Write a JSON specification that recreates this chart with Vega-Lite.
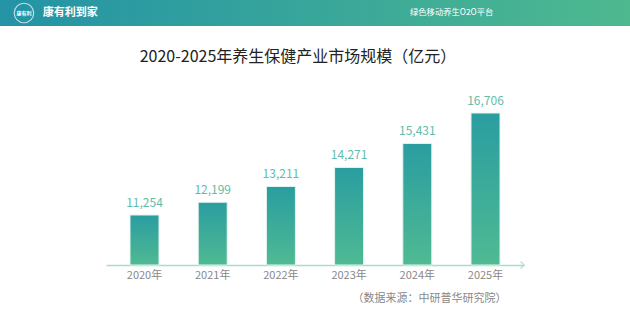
{
  "$schema": "https://vega.github.io/schema/vega-lite/v6.json",
  "padding": 0,
  "background": "white",
  "spacing": 87,
  "center": true,
  "bounds": "flush",
  "config": {"view": {"stroke": null}, "font": "Noto Sans CJK SC"},
  "vconcat": [
    {
      "width": 630,
      "height": 26,
      "view": {"fill": {"gradient": "linear", "x1": 0, "y1": 0, "x2": 1, "y2": 0, "stops": [{"offset": 0, "color": "#2393a6"}, {"offset": 1, "color": "#4eb98f"}]}},
      "data": {"values": [{"name": "brand", "label": "康有利到家"}, {"name": "slogan", "label": "绿色移动养生O2O平台"}, {"name": "logo", "label": "康有利"}]},
      "layer": [
        {
          "transform": [{"filter": "datum.name === 'logo'"}],
          "mark": {"type": "point", "shape": "circle", "filled": false, "stroke": "white", "strokeWidth": 1.2, "size": 380},
          "encoding": {
            "x": {"datum": 0.038, "type": "quantitative", "scale": {"domain": [0, 1]}, "axis": null},
            "y": {"datum": 0.5, "type": "quantitative", "scale": {"domain": [0, 1]}, "axis": null}
          }
        },
        {
          "transform": [{"filter": "datum.name === 'logo'"}],
          "mark": {"type": "text", "color": "white", "fontSize": 5, "fontWeight": "bold"},
          "encoding": {
            "x": {"datum": 0.038, "type": "quantitative"},
            "y": {"datum": 0.5, "type": "quantitative"},
            "text": {"field": "label"}
          }
        },
        {
          "transform": [{"filter": "datum.name === 'brand'"}],
          "mark": {"type": "text", "color": "white", "fontSize": 11, "fontWeight": "bold", "align": "left", "baseline": "middle"},
          "encoding": {
            "x": {"datum": 0.068, "type": "quantitative"},
            "y": {"datum": 0.5, "type": "quantitative"},
            "text": {"field": "label"}
          }
        },
        {
          "transform": [{"filter": "datum.name === 'slogan'"}],
          "mark": {"type": "text", "color": "white", "fontSize": 8.3, "align": "right", "baseline": "middle"},
          "encoding": {
            "x": {"datum": 0.783, "type": "quantitative"},
            "y": {"datum": 0.5, "type": "quantitative"},
            "text": {"field": "label"}
          }
        }
      ]
    },
    {
      "width": 418,
      "height": 152,
      "title": {"text": "2020-2025年养生保健产业市场规模（亿元）", "fontSize": 16, "fontWeight": "normal", "color": "#222222", "offset": 30, "dx": -17, "anchor": "middle"},
      "data": {"values": [
        {"year": "2020年", "value": 11254},
        {"year": "2021年", "value": 12199},
        {"year": "2022年", "value": 13211},
        {"year": "2023年", "value": 14271},
        {"year": "2024年", "value": 15431},
        {"year": "2025年", "value": 16706}
      ]},
      "layer": [
        {
          "layer": [
            {
              "mark": {"type": "bar", "fill": {"gradient": "linear", "x1": 0, "y1": 0, "x2": 0, "y2": 1, "stops": [{"offset": 0, "color": "#2a9da0"}, {"offset": 1, "color": "#4fba93"}]}, "stroke": "#e3f4ef", "strokeWidth": 1},
              "encoding": {
                "x": {"field": "year", "type": "nominal", "scale": {"paddingInner": 0.575, "paddingOuter": 0.352},
                  "axis": {"title": "（数据来源：中研普华研究院）", "titleAnchor": "end", "titleAlign": "right", "titleX": 400, "titleY": 33, "titleBaseline": "middle", "titleColor": "#888888", "titleFontSize": 11, "titleFontWeight": "normal", "domainColor": "#a8dcc8", "domainWidth": 1.5, "ticks": false, "labelColor": "#888888", "labelFontSize": 11, "labelPadding": 4, "labelAngle": 0}},
                "y": {"field": "value", "type": "quantitative", "scale": {"type": "pow", "exponent": 2.814, "domain": [0, 16706], "nice": false}, "axis": null}
              }
            },
            {
              "mark": {"type": "text", "dy": -5, "baseline": "bottom", "color": "#63bba9", "fontSize": 12},
              "encoding": {
                "x": {"field": "year", "type": "nominal"},
                "y": {"field": "value", "type": "quantitative"},
                "text": {"field": "value", "type": "quantitative", "format": ","}
              }
            }
          ]
        },
        {
          "data": {"values": [{"name": "arrow"}]},
          "mark": {"type": "point", "shape": "M-1,-1L0,0L-1,1", "filled": false, "stroke": "#a8dcc8", "strokeWidth": 1.5, "size": 49},
          "encoding": {
            "x": {"datum": 1, "type": "quantitative", "scale": {"domain": [0, 1]}, "axis": null},
            "y": {"datum": 0, "type": "quantitative"}
          }
        }
      ],
      "resolve": {"scale": {"x": "independent"}, "axis": {"x": "independent"}}
    }
  ]
}
